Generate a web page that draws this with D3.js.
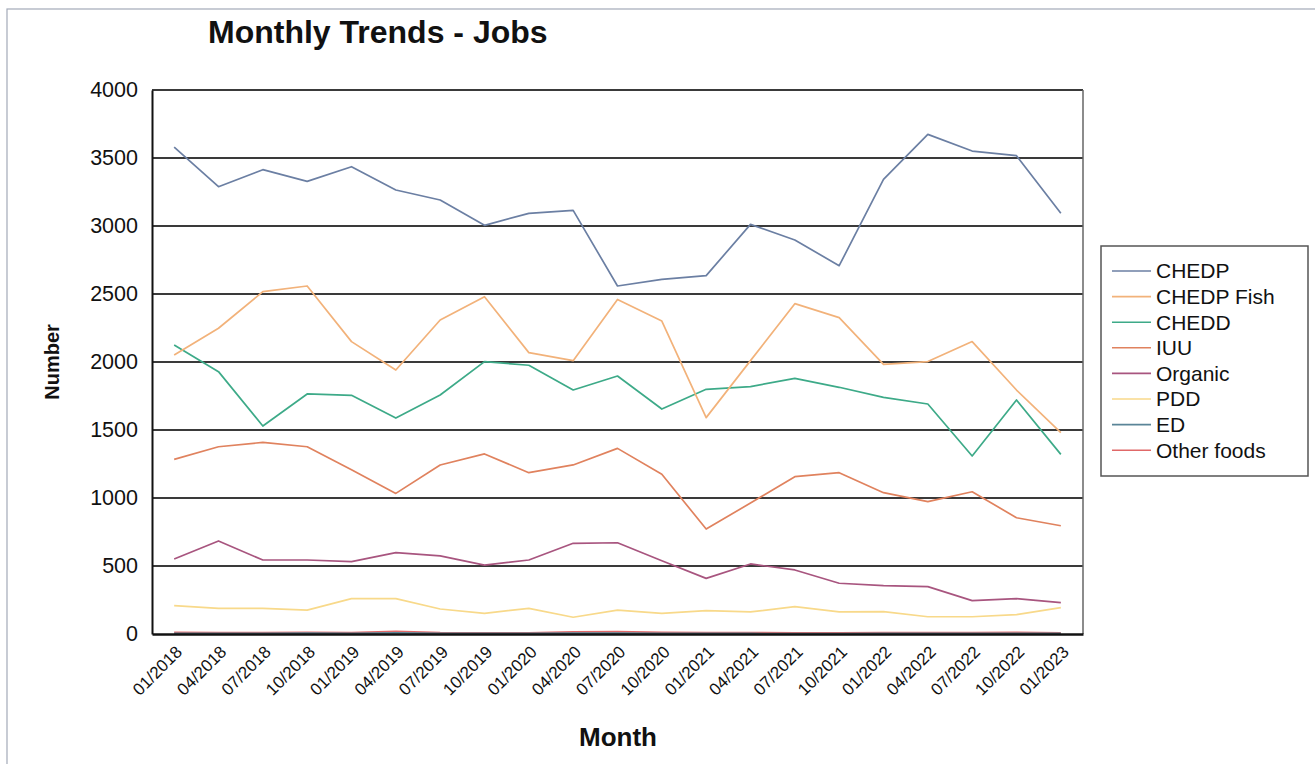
<!DOCTYPE html>
<html>
<head>
<meta charset="utf-8">
<script src="https://cdn.jsdelivr.net/npm/d3@7"></script>
<style>
  html, body { margin: 0; padding: 0; background: #fff; }
  svg { display: block; font-family: "Liberation Sans", Arial, sans-serif; }
</style>
</head>
<body>
<svg id="chart" width="1315" height="764"></svg>
<script>
const months = ["01/2018","04/2018","07/2018","10/2018","01/2019","04/2019","07/2019","10/2019","01/2020","04/2020","07/2020","10/2020","01/2021","04/2021","07/2021","10/2021","01/2022","04/2022","07/2022","10/2022","01/2023"];
const seriesNames = ["CHEDP","CHEDP Fish","CHEDD","IUU","Organic","PDD","ED","Other foods"];
const chedp      = [3580,3289,3414,3328,3436,3265,3191,3005,3093,3115,2559,2608,2635,3012,2897,2708,3343,3674,3551,3517,3093];
const chedpFish  = [2051,2248,2517,2559,2150,1941,2309,2480,2069,2010,2460,2301,1591,2010,2429,2326,1983,2003,2150,1794,1480];
const chedd      = [2125,1929,1529,1765,1755,1588,1757,2003,1976,1794,1897,1654,1799,1819,1880,1814,1740,1691,1309,1721,1321];
const iuu        = [1284,1377,1409,1377,1208,1034,1243,1324,1186,1243,1365,1174,772,963,1157,1186,1039,973,1046,855,796];
const organic    = [551,684,544,544,532,598,574,507,544,667,671,539,409,515,471,373,355,348,245,260,230];
const pdd        = [208,189,189,176,260,260,184,152,189,123,176,152,172,162,201,162,164,127,127,142,194];
const ed         = [5,4,4,6,5,8,5,4,4,6,6,5,4,4,3,3,5,5,4,5,4];
const otherFoods = [12,10,10,12,10,20,10,8,8,15,18,12,10,10,8,8,10,10,10,12,8];
const yTicks = [0,500,1000,1500,2000,2500,3000,3500,4000];
const colors = ["#6b7fa3","#f2b27a","#3daa88","#e0825e","#a8557f","#f8d98a","#5a8598","#e06868"];

const allSeries = [chedp, chedpFish, chedd, iuu, organic, pdd, ed, otherFoods];

const svg = d3.select("#chart");
const plot = { left: 152, right: 1083, top: 90, bottom: 634 };

// outer frame
svg.append("rect").attr("x", 7).attr("y", 9).attr("width", 1320).attr("height", 780)
  .attr("fill", "none").attr("stroke", "#a3aab8").attr("stroke-width", 1.2);

const x = d3.scaleBand().domain(months).range([plot.left, plot.right]);
const y = d3.scaleLinear().domain([0, 4000]).range([plot.bottom, plot.top]);

// gridlines
svg.append("g").selectAll("line").data(yTicks.filter(d => d > 0)).join("line")
  .attr("x1", plot.left).attr("x2", plot.right)
  .attr("y1", d => y(d)).attr("y2", d => y(d))
  .attr("stroke", "#3a3a3a").attr("stroke-width", 1.8);

// right border
svg.append("line").attr("x1", plot.right).attr("x2", plot.right)
  .attr("y1", plot.top).attr("y2", plot.bottom).attr("stroke", "#666").attr("stroke-width", 1.5);

// y axis
const yAxis = svg.append("g").attr("transform", `translate(${plot.left},0)`)
  .call(d3.axisLeft(y).tickValues(yTicks).tickFormat(d3.format("d")).tickSize(0).tickPadding(14));
yAxis.select(".domain").attr("stroke", "#111").attr("stroke-width", 2);
yAxis.selectAll("text").attr("font-size", 21.5).attr("fill", "#111")
  .attr("font-family", "Liberation Sans, Arial, sans-serif");

// lines
const line = d3.line().x((d, i) => x(months[i]) + x.bandwidth() / 2).y(d => y(d));
const order = [7, 6, 5, 4, 3, 2, 1, 0];
order.forEach(k => {
  svg.append("path").datum(allSeries[k]).attr("d", line)
    .attr("fill", "none").attr("stroke", colors[k]).attr("stroke-width", 1.7)
    .attr("stroke-linejoin", "round");
});

// x axis
const xAxis = svg.append("g").attr("transform", `translate(0,${plot.bottom})`)
  .call(d3.axisBottom(x).tickSize(0).tickPadding(0));
xAxis.select(".domain").attr("stroke", "#111").attr("stroke-width", 2.5);
xAxis.selectAll("text")
  .attr("font-size", 17).attr("fill", "#111")
  .attr("font-family", "Liberation Sans, Arial, sans-serif")
  .attr("text-anchor", "end")
  .attr("dy", null).attr("y", null)
  .attr("transform", "translate(9,19) rotate(-45)");

// title
svg.append("text").attr("x", 208).attr("y", 43)
  .attr("font-size", 32).attr("font-weight", "bold").attr("fill", "#111")
  .text("Monthly Trends - Jobs");

// axis titles
svg.append("text").attr("transform", "translate(59,362) rotate(-90)")
  .attr("text-anchor", "middle").attr("font-size", 20).attr("font-weight", "bold").attr("fill", "#111")
  .text("Number");
svg.append("text").attr("x", 618).attr("y", 746).attr("text-anchor", "middle")
  .attr("font-size", 26).attr("font-weight", "bold").attr("fill", "#111")
  .text("Month");

// legend
const lg = svg.append("g");
lg.append("rect").attr("x", 1101).attr("y", 246).attr("width", 207).attr("height", 230)
  .attr("fill", "#fff").attr("stroke", "#555").attr("stroke-width", 1.5);
seriesNames.forEach((name, i) => {
  const yy = 271 + i * 25.6;
  lg.append("line").attr("x1", 1112).attr("x2", 1151).attr("y1", yy).attr("y2", yy)
    .attr("stroke", colors[i]).attr("stroke-width", 1.6);
  lg.append("text").attr("x", 1156).attr("y", yy).attr("dy", "0.35em")
    .attr("font-size", 21).attr("fill", "#111").text(name);
});
</script>
</body>
</html>
